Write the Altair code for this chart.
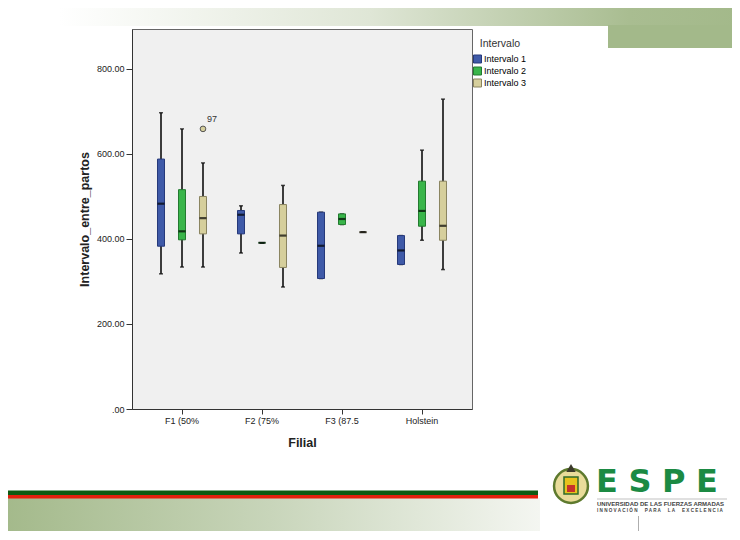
import altair as alt
import pandas as pd

# ---- data ----
filial = ["F1 (50%", "F2 (75%", "F3 (87.5", "Holstein"]
intervalos = ["Intervalo 1", "Intervalo 2", "Intervalo 3"]

box_filial = ["F1 (50%"] * 3 + ["F2 (75%"] * 3 + ["F3 (87.5"] * 3 + ["Holstein"] * 3
box_intervalo = intervalos * 4
low = [318, 334, 334, 367, 391, 287, 307, 434, 416, 340, 397, 328]
q1 = [383, 398, 412, 412, 391, 333, 307, 434, 416, 340, 430, 397]
med = [483, 418, 449, 457, 391, 408, 384, 447, 416, 373, 466, 431]
q3 = [588, 516, 500, 467, 391, 481, 463, 459, 416, 408, 536, 536]
high = [697, 659, 579, 478, 391, 526, 463, 459, 416, 408, 609, 729]

out_filial = ["F1 (50%"]
out_intervalo = ["Intervalo 3"]
out_value = [659]
out_label = ["97"]

fill_colors = ["#3f5aa8", "#39b54a", "#d6cf9c"]
stroke_colors = ["#26397a", "#237a30", "#8a8460"]

df = pd.DataFrame({"filial": box_filial, "intervalo": box_intervalo,
                   "low": low, "q1": q1, "med": med, "q3": q3, "high": high})
dfo = pd.DataFrame({"filial": out_filial, "intervalo": out_intervalo,
                    "v": out_value, "lab": out_label})
one = pd.DataFrame({"d": [0]})

FONT = "Liberation Sans"
GREEN = "#a3b98a"

x_enc = alt.X("filial:N", sort=filial,
              scale=alt.Scale(domain=filial, paddingInner=0, paddingOuter=0.125),
              axis=alt.Axis(labelAngle=0, labelFontSize=9, labelColor="#222",
                            labelFont=FONT, tickSize=5, tickColor="#333",
                            domainColor="#333", labelPadding=2,
                            titleFont=FONT, titleFontSize=12.5, titleFontWeight="bold",
                            titleColor="#222", titlePadding=11),
              title="Filial")


def XO():
    return alt.XOffset("intervalo:N",
                       scale=alt.Scale(domain=intervalos, paddingInner=0,
                                       paddingOuter=0.405))


y_scale = alt.Scale(domain=[0, 894], nice=False, zero=True)
y_axis = alt.Axis(values=[0, 200, 400, 600, 800], format=".2f",
                  labelExpr="datum.value == 0 ? '.00' : datum.label",
                  grid=False, labelFontSize=9, labelColor="#222", labelFont=FONT,
                  tickSize=6, tickColor="#333", domainColor="#333", labelPadding=2,
                  titleFont=FONT, titleFontSize=12.5, titleFontWeight="bold",
                  titleColor="#222", titlePadding=5)


def Y(field):
    return alt.Y(field, type="quantitative", scale=y_scale, axis=y_axis,
                 title="Intervalo_entre_partos")


base = alt.Chart(df)

whisker = base.mark_rule(color="black", strokeWidth=1.5).encode(
    x=x_enc, xOffset=XO(), y=Y("low"), y2="high")
cap_low = base.mark_tick(color="black", size=4, thickness=1.5).encode(
    x=x_enc, xOffset=XO(), y=Y("low"))
cap_high = base.mark_tick(color="black", size=4, thickness=1.5).encode(
    x=x_enc, xOffset=XO(), y=Y("high"))
box = base.mark_bar(size=7, strokeWidth=1).encode(
    x=x_enc, xOffset=XO(), y=Y("q1"), y2="q3",
    fill=alt.Fill("intervalo:N",
                  scale=alt.Scale(domain=intervalos, range=fill_colors),
                  legend=alt.Legend(title="Intervalo", orient="none",
                                    legendX=341, legendY=10,
                                    titleAnchor="middle",
                                    symbolType="square", symbolSize=64,
                                    symbolStrokeColor="#333", symbolStrokeWidth=1,
                                    titleFont=FONT, titleFontSize=10.5,
                                    titleFontWeight="normal", titleColor="#333",
                                    titlePadding=5,
                                    labelFont=FONT, labelFontSize=9, labelColor="#000",
                                    labelOffset=2, rowPadding=-1)),
    stroke=alt.Stroke("intervalo:N",
                      scale=alt.Scale(domain=intervalos, range=stroke_colors),
                      legend=None))
median = base.mark_tick(color="black", size=7, thickness=2.2).encode(
    x=x_enc, xOffset=XO(), y=Y("med"))

outlier = alt.Chart(dfo).mark_point(shape="circle", filled=True, fill="#d6cf9c",
                                    stroke="#555", strokeWidth=1, size=32,
                                    opacity=1).encode(
    x=x_enc, xOffset=XO(), y=Y("v"))
out_text = alt.Chart(dfo).mark_text(align="left", dx=4, dy=-10, fontSize=9,
                                    font=FONT, color="#333").encode(
    x=x_enc, xOffset=XO(), y=Y("v"), text="lab:N")

# ---- slide decorations (page coords shifted by plot origin 132, 29) ----
OX, OY = 132, 29
deco = alt.Chart(one)
top_band = deco.mark_rect(color={
    "gradient": "linear", "x1": 0, "x2": 1, "y1": 0, "y2": 0,
    "stops": [{"offset": 0, "color": "#ffffff"}, {"offset": 0.08, "color": "#ffffff"},
              {"offset": 0.5, "color": "#dfe6d6"}, {"offset": 0.85, "color": "#a9bd91"},
              {"offset": 1, "color": GREEN}]}).encode(
    x=alt.value(0 - OX), x2=alt.value(740 - OX), y=alt.value(0 - OY), y2=alt.value(26 - OY))
right_block = deco.mark_rect(color=GREEN).encode(
    x=alt.value(608 - OX), x2=alt.value(740 - OX), y=alt.value(25 - OY), y2=alt.value(48 - OY))
bottom_band = deco.mark_rect(color={
    "gradient": "linear", "x1": 0, "x2": 1, "y1": 0, "y2": 0,
    "stops": [{"offset": 0, "color": GREEN}, {"offset": 0.5, "color": "#c8d5ba"},
              {"offset": 1, "color": "#f4f6f1"}]}).encode(
    x=alt.value(0 - OX), x2=alt.value(540 - OX), y=alt.value(498 - OY), y2=alt.value(540 - OY))
green_line = deco.mark_rect(color="#0d5a12").encode(
    x=alt.value(2 - OX), x2=alt.value(538 - OX), y=alt.value(490.5 - OY), y2=alt.value(495 - OY))
red_line = deco.mark_rect(color="#e3200e").encode(
    x=alt.value(2 - OX), x2=alt.value(538 - OX), y=alt.value(495 - OY), y2=alt.value(498.5 - OY))

# emblem (simplified)
emb_ring = deco.mark_point(shape="circle", filled=True, fill="#e9dc9a", stroke="#5e7a2e",
                           strokeWidth=2.5, size=1150, opacity=1).encode(
    x=alt.value(571 - OX), y=alt.value(486 - OY))
emb_shield = deco.mark_rect(color="#e8c21c", stroke="#2f6b2a", strokeWidth=1.5).encode(
    x=alt.value(564 - OX), x2=alt.value(578 - OX), y=alt.value(477 - OY), y2=alt.value(494 - OY))
emb_red = deco.mark_rect(color="#c8322a").encode(
    x=alt.value(567 - OX), x2=alt.value(575 - OX), y=alt.value(485 - OY), y2=alt.value(492 - OY))
emb_top = deco.mark_point(shape="triangle-up", filled=True, fill="#3b3a2a", size=90,
                          opacity=1).encode(
    x=alt.value(571 - OX), y=alt.value(468 - OY))

espe = deco.mark_text(text="E\u2004S\u2004P\u2004E", font="DejaVu Sans", fontWeight="bold",
                      fontSize=32, color="#1b8a43", align="left",
                      baseline="alphabetic").encode(
    x=alt.value(596 - OX), y=alt.value(492 - OY))
sep = deco.mark_rule(color="#999", strokeWidth=0.6).encode(
    x=alt.value(597 - OX), x2=alt.value(727 - OX), y=alt.value(499 - OY))
univ = deco.mark_text(text="UNIVERSIDAD DE LAS FUERZAS ARMADAS", font=FONT,
                      fontWeight="bold", fontSize=6, color="#444", align="left").encode(
    x=alt.value(597 - OX), y=alt.value(503.5 - OY))
innov = deco.mark_text(
    text="I N N O V A C I Ó N \u2003 P A R A \u2003 L A \u2003 E X C E L E N C I A",
    font=FONT, fontWeight="bold", fontSize=4.6, color="#444", align="left").encode(
    x=alt.value(597 - OX), y=alt.value(510.5 - OY))
vline = deco.mark_rule(color="#999", strokeWidth=0.8).encode(
    x=alt.value(638.5 - OX), y=alt.value(516 - OY), y2=alt.value(540 - OY))

chart = alt.layer(
    top_band, right_block, bottom_band, green_line, red_line,
    emb_ring, emb_shield, emb_red, emb_top,
    espe, sep, univ, innov, vline,
    whisker, cap_low, cap_high, box, median, outlier, out_text
).properties(
    width=340, height=380,
    padding={"left": 124, "top": 21, "right": 260, "bottom": 122},
    autosize=alt.AutoSizeParams(type="none"),
    background="white",
).configure_view(stroke="#666", fill="#f0f0f0", strokeWidth=1)

chart.save("out.html", embed_options={"renderer": "svg", "actions": False})
